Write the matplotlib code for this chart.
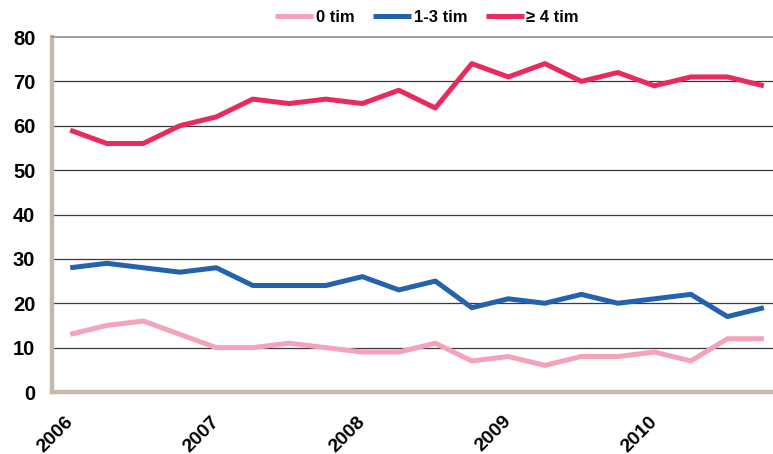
import matplotlib
matplotlib.use("Agg")
import matplotlib.pyplot as plt

# Quarterly series, 2006 Q1 .. 2010 Q4
quarters = list(range(20))
year_labels = ["2006", "2007", "2008", "2009", "2010"]
year_positions = [0, 4, 8, 12, 16]

tim_0 = [13, 15, 16, 13, 10, 10, 11, 10, 9, 9, 11, 7, 8, 6, 8, 8, 9, 7, 12, 12]
tim_1_3 = [28, 29, 28, 27, 28, 24, 24, 24, 26, 23, 25, 19, 21, 20, 22, 20, 21, 22, 17, 19]
tim_4 = [59, 56, 56, 60, 62, 66, 65, 66, 65, 68, 64, 74, 71, 74, 70, 72, 69, 71, 71, 69]

series_names = ["0 tim", "1-3 tim", "\u2265 4 tim"]
colors = ["#F4A3B8", "#2462AE", "#EA2A5C"]

plt.rcParams["font.family"] = ["Liberation Sans", "DejaVu Sans"]
plt.rcParams["font.weight"] = "bold"

W, H = 773, 454
fig = plt.figure(figsize=(W / 100, H / 100), dpi=100)
ax = fig.add_axes([52 / W, (H - 392) / H, (W - 52) / W, (392 - 37) / H])

for vals, name, c in zip([tim_0, tim_1_3, tim_4], series_names, colors):
    ax.plot(quarters, vals, color=c, lw=3.6, label=name, solid_joinstyle="round",
            solid_capstyle="butt", zorder=3)

ax.set_xlim(-0.5, 19.25)
ax.set_ylim(0, 80)
ax.set_yticks(range(0, 81, 10))
for y in range(10, 80, 10):
    ax.axhline(y, color="#3a3a3a", lw=0.9, zorder=1)

# Year ticks with diagonal labels hanging below the axis
ax.set_xticks(year_positions)
ax.set_xticklabels([])
for pos, lab in zip(year_positions, year_labels):
    ax.annotate(lab, xy=(pos, 0), xycoords=("data", "axes fraction"),
                xytext=(-4, -15), textcoords="offset points", rotation=45,
                ha="right", va="top", rotation_mode="anchor",
                fontsize=14, fontweight="bold", annotation_clip=False)

ax.tick_params(axis="y", labelsize=14.5, length=0, pad=12)
ax.tick_params(axis="x", length=0)
for lab in ax.get_yticklabels():
    lab.set_fontweight("bold")

for side in ["left", "bottom"]:
    ax.spines[side].set_color("#C6B8AA")
    ax.spines[side].set_linewidth(3.2)
ax.spines["top"].set_color("#9A8C80")
ax.spines["top"].set_linewidth(1.2)
ax.spines["right"].set_visible(False)

leg = fig.legend(loc="center", bbox_to_anchor=(427 / W, 1 - 17 / H), ncol=3,
                 frameon=False, handlelength=2.3, handletextpad=0.15,
                 columnspacing=1.1, prop={"weight": "bold", "size": 12})

fig.savefig("out.png", dpi=100)
